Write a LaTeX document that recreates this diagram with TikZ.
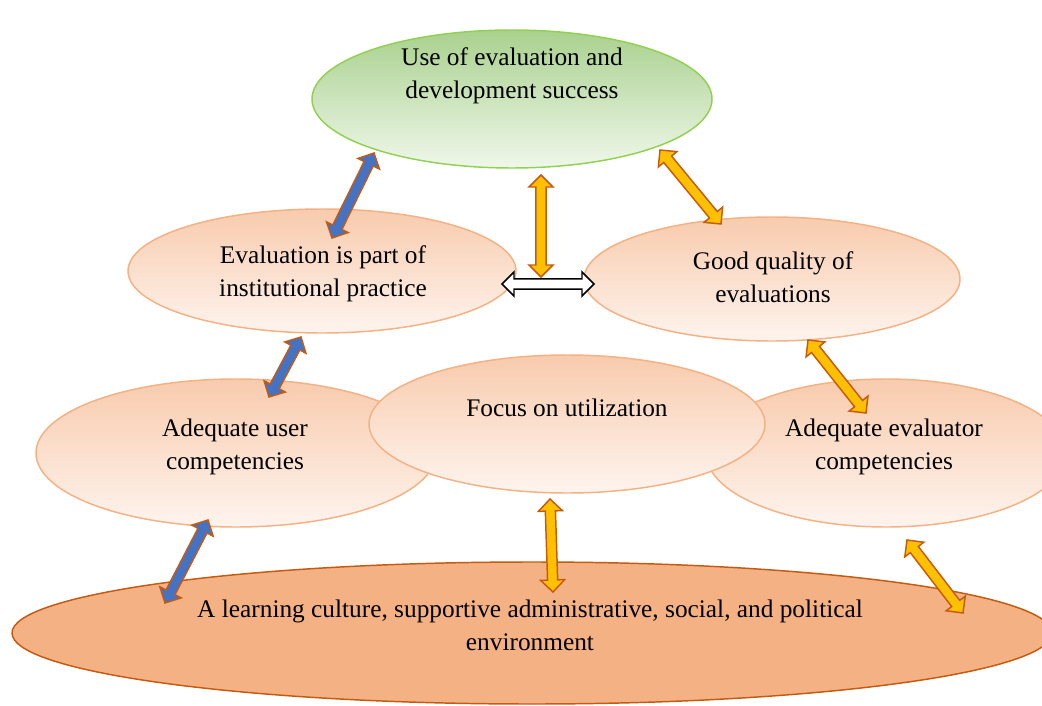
\documentclass[tikz,border=0pt]{standalone}
\usepackage{fontspec}
\setmainfont{Liberation Serif}
\usetikzlibrary{shapes.geometric,calc}

\definecolor{leafgreen}{HTML}{A9D18E}
\definecolor{leafpale}{HTML}{EFF7EA}
\definecolor{leafline}{HTML}{92D050}
\definecolor{peach}{HTML}{F8CBAD}
\definecolor{peachpale}{HTML}{FEF4EE}
\definecolor{peachline}{HTML}{F4B183}
\definecolor{rust}{HTML}{C55A11}
\definecolor{arrowblue}{HTML}{4472C4}
\definecolor{arrowgold}{HTML}{FFC000}

% block arrow with a head at both ends: \twoway[style]{from}{to}
\newcommand{\twoway}[3][gold]{%
  \filldraw[#1] (#2)
    -- ($(#2)!12.73pt!45:(#3)$) -- ($(#2)!9.77pt!22.9:(#3)$)
    -- ($(#3)!9.77pt!-22.9:(#2)$) -- ($(#3)!12.73pt!-45:(#2)$)
    -- (#3)
    -- ($(#3)!12.73pt!45:(#2)$) -- ($(#3)!9.77pt!22.9:(#2)$)
    -- ($(#2)!9.77pt!-22.9:(#3)$) -- ($(#2)!12.73pt!-45:(#3)$)
    -- cycle;}

\begin{document}
\begin{tikzpicture}[x=0.75pt,y=-0.75pt,
  oval/.style={ellipse,inner sep=0pt,line width=1.1pt},
  soft/.style={oval,draw=peachline,top color=peach,bottom color=peachpale},
  txt/.style={align=center,font=\fontsize{19}{24.75}\selectfont},
  gold/.style={draw=rust,fill=arrowgold,line width=1.1pt},
  blue/.style={draw=rust,fill=arrowblue,line width=1.1pt},
  hollow/.style={draw=black,fill=white,line width=1.1pt}]

\useasboundingbox (0,0) rectangle (1042,706);
\clip (0,0) rectangle (1042,706);

% ellipses
\node[oval,draw=leafline,top color=leafgreen,bottom color=leafpale,
      minimum width=300pt,minimum height=103.5pt] (use) at (512,99) {};
\node[soft,minimum width=291pt,minimum height=93pt]  (practice)  at (322,271) {};
\node[soft,minimum width=282pt,minimum height=93pt]  (quality)   at (772,279) {};
\node[soft,minimum width=300pt,minimum height=111pt] (user)      at (236,453) {};
\node[soft,minimum width=270pt,minimum height=111pt] (evaluator) at (886,453) {};
\node[soft,minimum width=297pt,minimum height=103.5pt] (focus)   at (567,424) {};
\node[oval,draw=rust,fill=peachline,
      minimum width=780pt,minimum height=106.5pt] (culture) at (532,633) {};

% texts
\node[txt] (usetxt)       at (512,76)  {Use of evaluation and\\development success};
\node[txt] (practicetxt)  at (323,274) {Evaluation is part of\\institutional practice};
\node[txt] (qualitytxt)   at (773,277) {Good quality of\\evaluations};
\node[txt] (usertxt)      at (235,447) {Adequate user\\competencies};
\node[txt] (focustxt)     at (567,408) {Focus on utilization};
\node[txt] (evaluatortxt) at (884,447) {Adequate evaluator\\competencies};
\node[txt] (culturetxt)   at (530,625) {A learning culture, supportive administrative, social, and political\\environment};

% arrow ends
\coordinate (a1) at (374,153); \coordinate (b1) at (332,238);
\coordinate (a2) at (541,175); \coordinate (b2) at (541,277);
\coordinate (a3) at (502,284); \coordinate (b3) at (594,284);
\coordinate (a4) at (660,150); \coordinate (b4) at (721,224);
\coordinate (a5) at (301,337); \coordinate (b5) at (269,397);
\coordinate (a6) at (808,340); \coordinate (b6) at (866,413);
\coordinate (a7) at (208,520); \coordinate (b7) at (165,603);
\coordinate (a8) at (550,499); \coordinate (b8) at (553,592);
\coordinate (a9) at (907,540); \coordinate (b9) at (963,613);

\twoway[blue]{a1}{b1}
\twoway{a2}{b2}
\twoway[hollow]{a3}{b3}
\twoway{a4}{b4}
\twoway[blue]{a5}{b5}
\twoway{a6}{b6}
\twoway[blue]{a7}{b7}
\twoway{a8}{b8}
\twoway{a9}{b9}

\end{tikzpicture}
\end{document}
